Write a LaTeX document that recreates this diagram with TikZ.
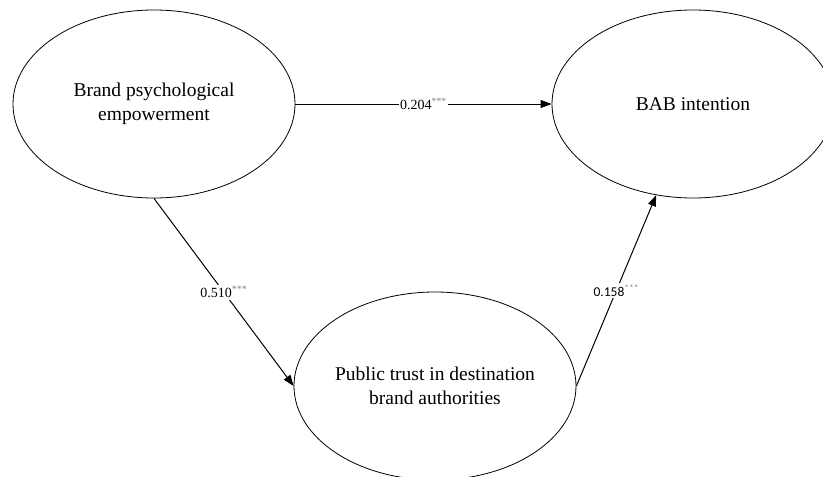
\documentclass[tikz,border=0pt]{standalone}
\usepackage{fontspec}
\setmainfont{Liberation Serif}
\newfontfamily\calibfont{Carlito}
\usetikzlibrary{shapes.geometric,arrows.meta}

\tikzset{
    construct/.style={draw, ellipse, line width=0.8pt, inner sep=0pt, minimum width=282pt, minimum height=188pt,
        label={[align=center, font=\fontsize{19.5}{24}\selectfont]center:#1}},
    path/.style={line width=1pt, -{Triangle[length=11pt,width=8pt]}},
    coef/.style={fill=white, inner sep=1.5pt, font=\fontsize{14}{14}\selectfont}
}
\newcommand{\sig}{\textsuperscript{\color{gray}***}}

\begin{document}
\begin{tikzpicture}[x=1pt, y=-1pt]
    
    \useasboundingbox (0,0) rectangle (823,477);
    \clip (0,0) rectangle (823,477);
    
    %%% constructs %%%
    \node[construct={Brand psychological\\empowerment}] (bpe) at (154,104) {};
    \node[construct={BAB intention}] (bab) at (693,104) {};
    \node[construct={Public trust in destination\\brand authorities}] (trust) at (435,386) {};
    
    %%% paths %%%
    \draw[path] (bpe.east) -- (bab.west) node[midway, coef] {0.204\sig};
    \draw[path] (bpe.south) -- (trust.west) node[midway, coef] {0.510\sig};
    \draw[path] (trust.east) -- (bab.248) node[midway, coef, font=\calibfont\fontsize{13.5}{14}\selectfont] {0.158\sig};
    
\end{tikzpicture}
\end{document}
